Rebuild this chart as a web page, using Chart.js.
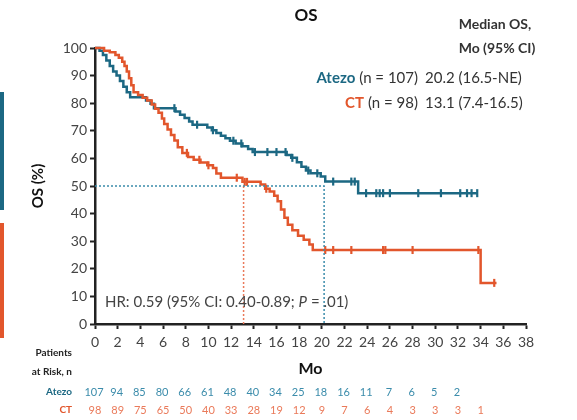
<!DOCTYPE html>
<html>
<head>
<meta charset="utf-8">
<title>OS</title>
<script src="https://cdn.jsdelivr.net/npm/chart.js@4"></script>
<style>
  html, body { margin: 0; padding: 0; background: #fff; }
  canvas { display: block; }
</style>
</head>
<body>
<canvas id="canvasOS" width="577" height="420"></canvas>
<script>
"use strict";

// Kaplan-Meier steps, months / % alive
var atezoTime = [0, 0.4, 0.7, 1.0, 1.3, 1.6, 1.9, 2.2, 2.5, 2.8, 3.1, 4.5, 4.9, 5.2, 7.1, 7.5, 7.9, 8.3, 8.6, 9.9, 10.3, 10.7, 11.1, 11.5, 11.9, 12.4, 13.0, 13.5, 13.9, 16.9, 17.3, 17.8, 18.2, 18.6, 19.0, 19.9, 20.3, 23.2, 33.7];
var atezoSurv = [100, 99, 97.5, 95.5, 93.5, 91.5, 90, 88, 86, 84, 82.2, 81, 79.8, 78.2, 77, 75.8, 74.6, 73.4, 72.2, 71.2, 70.2, 69.2, 68.2, 67.3, 66.4, 65.4, 64.4, 63.4, 62.3, 61.2, 60.2, 58.6, 57, 55.6, 54.6, 53.4, 51.6, 47.4, 47.4];
var atezoCensor = [7.0, 9.0, 10.4, 12.2, 12.9, 14.1, 15.2, 16.0, 16.8, 17.4, 18.8, 19.6, 21.0, 22.6, 22.9, 23.9, 24.8, 25.1, 25.4, 26.0, 28.5, 30.5, 32.2, 32.8, 33.2, 33.7];

var ctTime = [0, 0.8, 1.3, 1.8, 2.1, 2.4, 2.6, 2.8, 3.0, 3.2, 3.4, 3.8, 4.2, 4.6, 5.0, 5.3, 5.6, 5.9, 6.1, 6.4, 6.7, 7.0, 7.3, 7.7, 8.2, 8.7, 9.3, 9.9, 10.4, 10.7, 11.1, 13.0, 14.6, 15.0, 15.4, 15.8, 16.1, 16.4, 16.7, 17.0, 17.4, 17.9, 18.4, 18.9, 19.2, 34.0, 35.4];
var ctSurv = [100, 99, 98.5, 97.5, 96.5, 95, 93.5, 91.5, 89, 86.5, 84, 83, 82, 81, 79.5, 78, 76.5, 74.5, 72.5, 70.5, 68.5, 66.5, 64, 62, 60.5, 59.5, 58.5, 57.5, 56.5, 54.5, 53, 51.5, 50.5, 49, 48, 46.5, 44.5, 41.5, 38.5, 36, 34, 32, 30.5, 28.8, 26.8, 14.9, 14.9];
var ctCensor = [8.1, 9.2, 10.0, 12.5, 13.2, 13.4, 15.1, 20.3, 21.0, 22.6, 25.4, 25.6, 28.0, 33.8, 35.2];

var medianAtezo = 20.2;
var medianCT = 13.1;

// patients at risk every 2 months
var atezoAtRisk = [107, 94, 85, 80, 66, 61, 48, 40, 34, 25, 18, 16, 11, 7, 6, 5, 2];
var ctAtRisk = [98, 89, 75, 65, 50, 40, 33, 28, 19, 12, 9, 7, 6, 4, 3, 3, 3, 1];

var xTicks = [0, 2, 4, 6, 8, 10, 12, 14, 16, 18, 20, 22, 24, 26, 28, 30, 32, 34, 36, 38];
var yTicks = [0, 10, 20, 30, 40, 50, 60, 70, 80, 90, 100];

var TEAL = '#1c6883';
var TEAL_LIGHT = '#3b8cab';
var ORANGE = '#e2562c';
var ORANGE_LIGHT = '#ea7a5a';
var FONT = 'Lato, "Open Sans", sans-serif';

function toPoints(times, values) {
	return times.map(function (t, i) { return { x: t, y: values[i] }; });
}

function survivalAt(times, values, t) {
	var s = values[0];
	for (var i = 0; i < times.length; i++) {
		if (times[i] <= t) s = values[i];
	}
	return s;
}

function censorPoints(censor, times, values) {
	return censor.map(function (t) { return { x: t, y: survivalAt(times, values, t) }; });
}

function curve(label, times, values, color) {
	return {
		label: label,
		data: toPoints(times, values),
		borderColor: color,
		borderWidth: 2.5,
		stepped: true,
		pointRadius: 0,
		fill: false,
		clip: false
	};
}

function censorMarks(label, censor, times, values, color) {
	return {
		label: label,
		data: censorPoints(censor, times, values),
		showLine: false,
		pointStyle: 'line',
		rotation: 90,
		pointRadius: 4,
		borderWidth: 2.2,
		borderColor: color,
		backgroundColor: color,
		clip: false
	};
}

function dotted(label, points, color) {
	return {
		label: label,
		data: points,
		borderColor: color,
		borderWidth: 1.5,
		borderDash: [2, 2],
		pointRadius: 0,
		fill: false
	};
}

// text, side bars and risk table
var osTextPlugin = {
	id: 'osText',
	afterDraw: function (chart) {
		var ctx = chart.ctx;
		var x = chart.scales.x;
		ctx.save();

		ctx.fillStyle = TEAL;
		ctx.fillRect(0, 92, 4, 118);
		ctx.fillStyle = ORANGE;
		ctx.fillRect(0, 223, 4, 115);

		ctx.textBaseline = 'middle';
		ctx.textAlign = 'center';
		ctx.fillStyle = '#111';
		ctx.font = 'bold 17px ' + FONT;
		ctx.fillText('OS', 306, 16);

		ctx.fillStyle = '#333';
		ctx.font = 'bold 14px ' + FONT;
		ctx.fillText('Median OS,', 495, 24);
		ctx.fillText('Mo (95% CI)', 497, 48);

		var rows = [
			{ name: 'Atezo', n: '(n = 107)', med: '20.2 (16.5-NE)', color: TEAL, y: 78 },
			{ name: 'CT', n: '(n = 98)', med: '13.1 (7.4-16.5)', color: ORANGE, y: 103 }
		];
		rows.forEach(function (r) {
			ctx.font = '15px ' + FONT;
			ctx.textAlign = 'right';
			ctx.fillStyle = '#333';
			ctx.fillText(r.n, 418, r.y);
			var w = ctx.measureText(r.n).width;
			ctx.font = 'bold 15px ' + FONT;
			ctx.fillStyle = r.color;
			ctx.fillText(r.name, 418 - w - 4, r.y);
			ctx.font = '15px ' + FONT;
			ctx.textAlign = 'left';
			ctx.fillStyle = '#333';
			ctx.fillText(r.med, 425, r.y);
		});

		// hazard ratio
		ctx.textAlign = 'left';
		ctx.fillStyle = '#444';
		ctx.font = '15px ' + FONT;
		var hr = 'HR: 0.59 (95% CI: 0.40-0.89; ';
		var hx = 105;
		ctx.fillText(hr, hx, 302);
		hx += ctx.measureText(hr).width;
		ctx.font = 'italic 15px ' + FONT;
		ctx.fillText('P', hx, 302);
		hx += ctx.measureText('P').width;
		ctx.font = '15px ' + FONT;
		ctx.fillText(' = .01)', hx, 302);

		// patients at risk
		ctx.textAlign = 'right';
		ctx.fillStyle = '#222';
		ctx.font = 'bold 10px ' + FONT;
		ctx.fillText('Patients', 72, 353);
		ctx.fillText('at Risk, n', 72, 372);
		ctx.fillStyle = TEAL;
		ctx.fillText('Atezo', 72, 392);
		ctx.fillStyle = ORANGE;
		ctx.fillText('CT', 72, 410);

		ctx.textAlign = 'center';
		ctx.font = '11px ' + FONT;
		ctx.fillStyle = TEAL_LIGHT;
		atezoAtRisk.forEach(function (v, i) {
			ctx.fillText(String(v), x.getPixelForValue(i * 2) - 1, 392);
		});
		ctx.fillStyle = ORANGE_LIGHT;
		ctAtRisk.forEach(function (v, i) {
			ctx.fillText(String(v), x.getPixelForValue(i * 2), 410);
		});
		ctx.restore();
	}
};

var context = document.getElementById('canvasOS');
var osChart = new Chart(context, {
	type: 'line',
	data: {
		datasets: [
			dotted('Median line', [{ x: 0, y: 50 }, { x: medianAtezo, y: 50 }, { x: medianAtezo, y: 0 }], TEAL_LIGHT),
			dotted('Median CT', [{ x: medianCT, y: 50 }, { x: medianCT, y: 0 }], ORANGE_LIGHT),
			curve('CT', ctTime, ctSurv, ORANGE),
			curve('Atezo', atezoTime, atezoSurv, TEAL),
			censorMarks('CT censored', ctCensor, ctTime, ctSurv, ORANGE),
			censorMarks('Atezo censored', atezoCensor, atezoTime, atezoSurv, TEAL)
		]
	},
	options: {
		responsive: false,
		animation: false,
		devicePixelRatio: 1,
		layout: { padding: { left: 0, top: 48, right: 51, bottom: 0 } },
		plugins: {
			legend: { display: false },
			tooltip: { enabled: false }
		},
		scales: {
			x: {
				type: 'linear',
				min: 0,
				max: 38,
				afterFit: function (scale) { scale.height = 96; },
				afterBuildTicks: function (scale) {
					scale.ticks = xTicks.map(function (v) { return { value: v }; });
				},
				ticks: { color: '#444', font: { family: FONT, size: 14 }, padding: 5, maxRotation: 0, autoSkip: false },
				grid: { drawOnChartArea: false, drawTicks: true, tickLength: 5, tickWidth: 2, tickColor: '#222' },
				border: { display: true, color: '#222', width: 2.5 },
				title: { display: true, text: 'Mo', color: '#111', font: { family: FONT, size: 16, weight: 'bold' }, padding: { top: 0, bottom: 42 } }
			},
			y: {
				min: 0,
				max: 100,
				afterFit: function (scale) { scale.width = 95; },
				afterBuildTicks: function (scale) {
					scale.ticks = yTicks.map(function (v) { return { value: v }; });
				},
				ticks: { color: '#444', font: { family: FONT, size: 14 }, padding: 3 },
				grid: { drawOnChartArea: false, drawTicks: true, tickLength: 5, tickWidth: 2, tickColor: '#222' },
				border: { display: true, color: '#222', width: 2.5 },
				title: { display: true, text: 'OS (%)', color: '#111', font: { family: FONT, size: 15, weight: 'bold' }, padding: { top: 29, bottom: 0 } }
			}
		}
	},
	plugins: [osTextPlugin]
});
</script>
</body>
</html>
